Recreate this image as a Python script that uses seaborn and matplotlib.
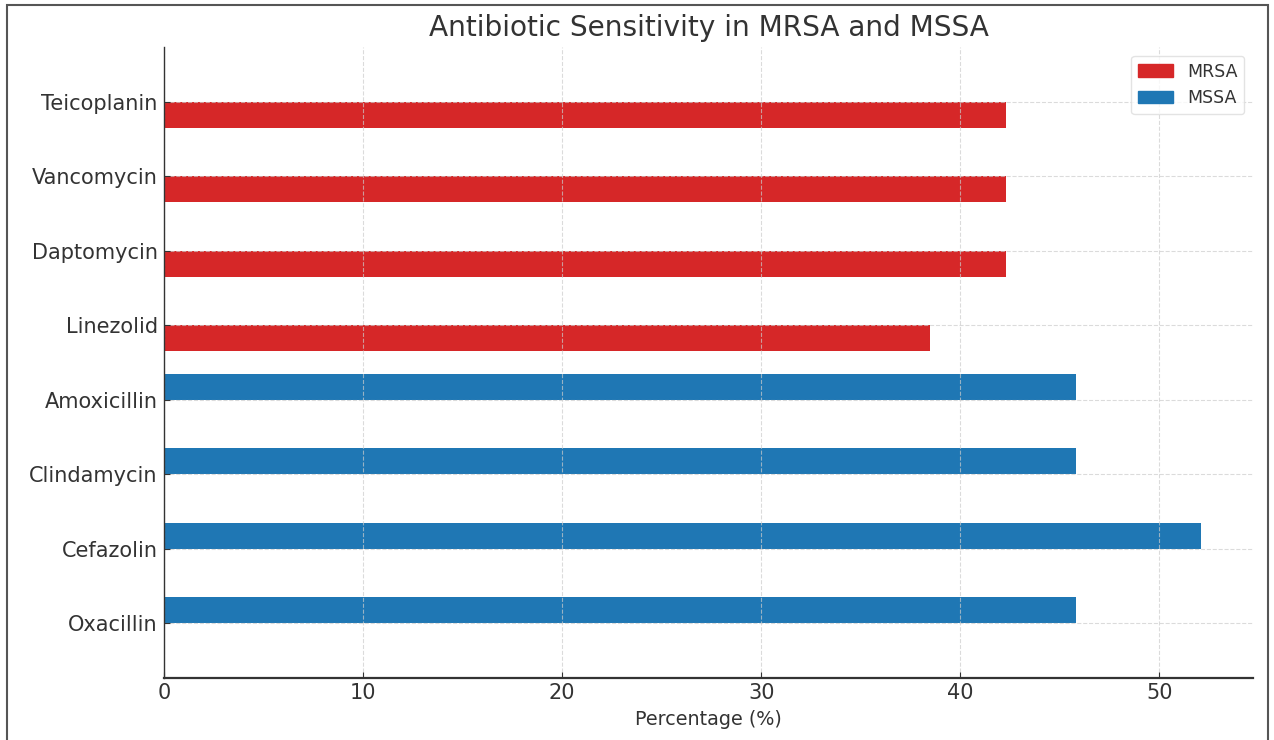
import matplotlib.pyplot as plt
import matplotlib.patches as mpatches
import pandas as pd
import seaborn as sns

# antibiotic names, top to bottom as shown
antibiotics = ['Teicoplanin', 'Vancomycin', 'Daptomycin', 'Linezolid',
               'Amoxicillin', 'Clindamycin', 'Cefazolin', 'Oxacillin']
mrsa = [42.3, 42.3, 42.3, 38.5, 0, 0, 0, 0]
mssa = [0, 0, 0, 0, 45.8, 45.8, 52.1, 45.8]
groups = ['MRSA', 'MSSA']
colors = {'MRSA': '#d62728', 'MSSA': '#1f77b4'}

df = pd.DataFrame({
    'antibiotic': antibiotics * 2,
    'group': ['MRSA'] * len(antibiotics) + ['MSSA'] * len(antibiotics),
    'pct': mrsa + mssa,
})

sns.set_style('white')
plt.rcParams['font.family'] = ['DejaVu Sans']
text_col = '#333333'

fig = plt.figure(figsize=(12.74, 7.40), dpi=100)
ax = fig.add_axes([164 / 1274, 62 / 740, (1253 - 164) / 1274, (678 - 47) / 740])

sns.barplot(data=df, x='pct', y='antibiotic', hue='group', order=antibiotics,
            hue_order=['MSSA', 'MRSA'], palette=colors, orient='h',
            width=0.7, saturation=1, linewidth=0, errorbar=None, ax=ax)

ax.set_ylim(len(antibiotics) - 1 + 0.735, -0.735)
ax.set_xlim(0, 54.7)
ax.set_xticks([0, 10, 20, 30, 40, 50])

ax.grid(True, linestyle='--', color='#cccccc', linewidth=0.8, alpha=0.7)
ax.set_axisbelow(False)

ax.set_title('Antibiotic Sensitivity in MRSA and MSSA', fontsize=20.2, color=text_col, pad=8)
ax.set_xlabel('Percentage (%)', fontsize=13.8, color=text_col, labelpad=5)
ax.set_ylabel('')
ax.tick_params(axis='both', direction='in', length=4, labelsize=15,
               colors=text_col, left=True, bottom=True)
ax.tick_params(axis='y', pad=4.5)

for side in ['top', 'right']:
    ax.spines[side].set_visible(False)
ax.spines['left'].set_color(text_col)
ax.spines['left'].set_linewidth(1.0)
ax.spines['bottom'].set_color(text_col)
ax.spines['bottom'].set_linewidth(1.6)
for sp in ax.spines.values():
    sp.set_zorder(3)

handles = [mpatches.Patch(color=colors[g], label=g) for g in groups]
ax.legend(handles=handles, loc='upper right', fontsize=12.5, frameon=True,
          edgecolor='#dddddd', labelcolor=text_col)

# screenshot frame
fig.patches.append(mpatches.Rectangle((7 / 1274, -0.01), (1268 - 7) / 1274, 1 - 5 / 740 + 0.01,
                                      transform=fig.transFigure, fill=False,
                                      edgecolor='#555555', linewidth=1.5))

fig.savefig('out.png', dpi=100)
